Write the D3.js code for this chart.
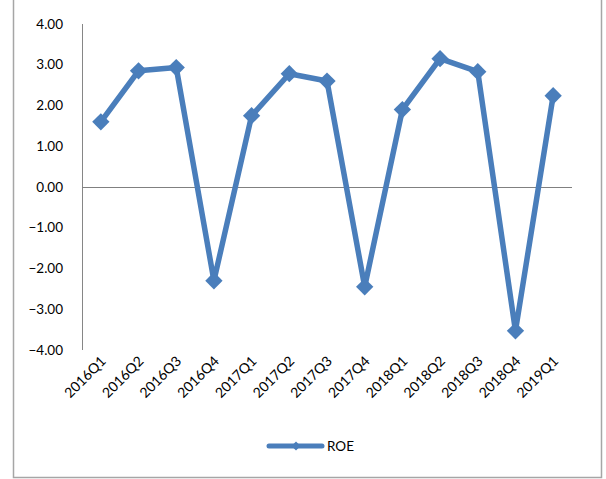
<!DOCTYPE html>
<html>
<head>
<meta charset="utf-8">
<title>ROE</title>
<script src="https://cdn.jsdelivr.net/npm/d3@7/dist/d3.min.js"></script>
<style>
  body { margin: 0; background: #fff; }
  text { font-family: Lato, "Open Sans", "Liberation Sans", sans-serif; fill: #000; }
</style>
</head>
<body>
<script>
  // data
  var quarters = ["2016Q1","2016Q2","2016Q3","2016Q4","2017Q1","2017Q2","2017Q3",
                  "2017Q4","2018Q1","2018Q2","2018Q3","2018Q4","2019Q1"];
  var roe = [1.6, 2.85, 2.93, -2.3, 1.75, 2.78, 2.6, -2.45, 1.9, 3.15, 2.83, -3.53, 2.24];
  var yTicks = [4, 3, 2, 1, 0, -1, -2, -3, -4];
  var seriesName = "ROE";

  var width = 606, height = 479;
  var blue = "#4a7ebb";

  var svg = d3.select("body").append("svg")
      .attr("width", width)
      .attr("height", height);

  // chart frame
  svg.append("rect")
      .attr("x", 13.5).attr("y", -2)
      .attr("width", 588).attr("height", 479.5)
      .attr("fill", "none")
      .attr("stroke", "#a6a6a6")
      .attr("stroke-width", 1.5);

  var x = d3.scaleBand().domain(quarters).range([82, 572]);
  var y = d3.scaleLinear().domain([-4, 4]).range([350, 24]);

  // y axis line
  svg.append("line")
      .attr("x1", 82.5).attr("x2", 82.5)
      .attr("y1", y(4)).attr("y2", y(-4))
      .attr("stroke", "#868686").attr("stroke-width", 1);

  // y tick labels
  svg.selectAll(".ylab")
      .data(yTicks)
      .enter()
      .append("text")
      .attr("class", "ylab")
      .attr("x", 63)
      .attr("y", function(d) { return y(d); })
      .attr("dy", "0.35em")
      .attr("text-anchor", "end")
      .attr("font-size", 13.5)
      .text(function(d) { return d3.format(".2f")(d); });

  // zero line (category axis)
  svg.append("line")
      .attr("x1", 82).attr("x2", 572)
      .attr("y1", Math.round(y(0)) + 0.5).attr("y2", Math.round(y(0)) + 0.5)
      .attr("stroke", "#808080").attr("stroke-width", 1.2);

  // category labels
  svg.selectAll(".xlab")
      .data(quarters)
      .enter()
      .append("text")
      .attr("class", "xlab")
      .attr("font-size", 14)
      .attr("text-anchor", "end")
      .attr("transform", function(d) {
        var cx = x(d) + x.bandwidth() / 2 + 6;
        return "translate(" + cx + ",362) rotate(-45)";
      })
      .text(function(d) { return d; });

  var line = d3.line()
      .x(function(d, i) { return x(quarters[i]) + x.bandwidth() / 2; })
      .y(function(d) { return y(d); });

  svg.append("path")
      .datum(roe)
      .attr("d", line)
      .attr("fill", "none")
      .attr("stroke", blue)
      .attr("stroke-width", 5.5)
      .attr("stroke-linejoin", "round");

  var diamond = d3.symbol().type(d3.symbolSquare).size(150);
  svg.selectAll(".pt")
      .data(roe)
      .enter()
      .append("path")
      .attr("class", "pt")
      .attr("d", diamond)
      .attr("fill", blue)
      .attr("transform", function(d, i) {
        return "translate(" + (x(quarters[i]) + x.bandwidth() / 2) + "," + y(d) + ") rotate(45)";
      });

  // legend
  var lg = svg.append("g").attr("transform", "translate(0,446)");
  lg.append("line")
      .attr("x1", 269).attr("x2", 322)
      .attr("y1", 0).attr("y2", 0)
      .attr("stroke", blue).attr("stroke-width", 5)
      .attr("stroke-linecap", "round");
  lg.append("path")
      .attr("d", d3.symbol().type(d3.symbolSquare).size(40))
      .attr("fill", blue)
      .attr("transform", "translate(296,0) rotate(45)");
  lg.append("text")
      .attr("x", 327).attr("y", 0).attr("dy", "0.35em")
      .attr("font-size", 13.5)
      .text(seriesName);
</script>
</body>
</html>
